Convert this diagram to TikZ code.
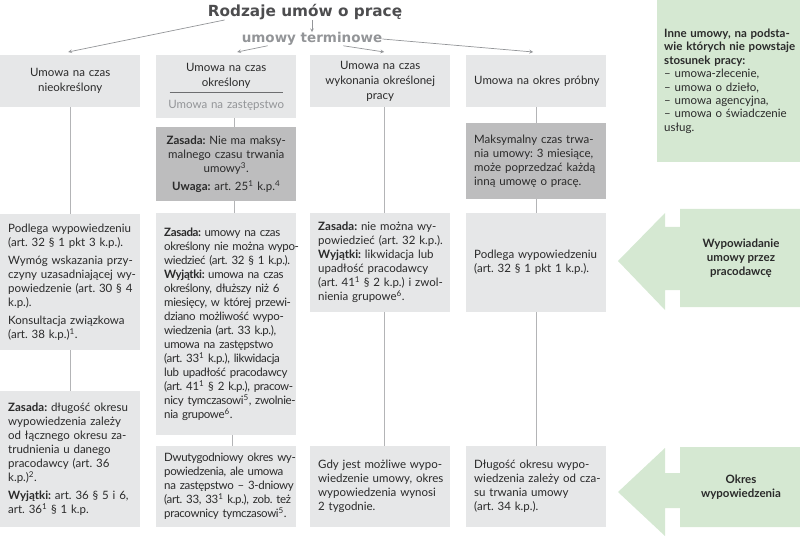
\documentclass[tikz,border=0pt]{standalone}
\usepackage{fontspec}
\setmainfont{Lato}
\newfontfamily\titlefont{DejaVu Sans}
\usepackage{xcolor}
\usepackage{tikz}

\definecolor{boxgray}{HTML}{E6E7E8}
\definecolor{darkbox}{HTML}{BDBDBE}
\definecolor{greenbox}{HTML}{D5E8D2}
\definecolor{txt}{HTML}{2A2A2A}
\definecolor{titlecol}{HTML}{4D4D4F}
\definecolor{termcol}{HTML}{939598}
\definecolor{linegray}{HTML}{B3B4B6}
\definecolor{sepgray}{HTML}{6D6E70}

\setlength{\parindent}{0pt}
\frenchspacing
% wiersz wyrownany do pelnej szerokosci
\newcommand{\fullline}[1]{\leavevmode\hbox to\hsize{#1}\\}

\begin{document}
\begin{tikzpicture}[x=1pt, y=-1pt, >=stealth,
        box/.style={anchor=north west, fill=boxgray, text=txt, text width=124pt, inner xsep=8pt, inner ysep=1pt, align=left, font=\fontsize{11.5}{14}\selectfont},
        head/.style={box, align=center, font=\fontsize{11.5}{15}\selectfont},
        dark/.style={box, fill=darkbox},
        tight/.style={font=\fontsize{11.5}{14}\selectfont\addfontfeatures{LetterSpace=-3}},
        gbox/.style={fill=greenbox, text=txt},
        link/.style={draw=linegray, line width=0.7pt},
        arr/.style={->, draw=termcol, line width=0.7pt}]
    \useasboundingbox (0,0) rectangle (800,537);

    % naglowki
    \node[inner sep=0pt, text=titlecol, font=\titlefont\bfseries\fontsize{15.3}{18}\selectfont] (title) at (305,12) {Rodzaje umów o pracę};
    \node[inner sep=0pt, text=termcol, font=\titlefont\bfseries\fontsize{13.5}{16}\selectfont] (term) at (312,39) {umowy terminowe};

    % rodzaje umow
    \node[head, minimum height=52pt] (h1) at (0,55) {Umowa na czas\\nieokreślony};
    \node[head, minimum height=63pt] (h2) at (156,55) {Umowa na czas\\określony\\[-8pt]\textcolor{sepgray}{\rule{113pt}{1.5pt}}\\\textcolor{termcol}{Umowa na zastępstwo}};
    \node[head, minimum height=52pt] (h3) at (310,55) {Umowa na czas\\\mbox{wykonania określonej}\\pracy};
    \node[head, minimum height=52pt] (h4) at (466,55) {\mbox{Umowa na okres próbny}};

    \node[dark, align=center, minimum height=74pt] (d2) at (156,127) {\mbox{\textbf{Zasada:} Nie ma maksy-}\\\mbox{malnego czasu trwania}\\umowy\textsuperscript{3}.\\[4pt]\mbox{\textbf{Uwaga:} art. 25\textsuperscript{1} k.p.\textsuperscript{4}}};
    \node[dark, minimum height=76pt] (d4) at (466,123) {\fullline{Maksymalny czas trwa-}\fullline{nia umowy: 3 miesiące,}\fullline{może poprzedzać każdą}inną umowę o pracę.};

    % wypowiadanie
    \node[box, minimum height=136pt] (w1) at (0,214) {\fullline{Podlega wypowiedzeniu}(art. 32 § 1 pkt 3 k.p.).\\[4pt]\fullline{Wymóg wskazania przy-}\fullline{czyny uzasadniającej wy-}\fullline{powiedzenie (art. 30 § 4}k.p.).\\[4pt]\fullline{Konsultacja związkowa}(art. 38 k.p.)\textsuperscript{1}.};
    \node[box, tight, minimum height=222pt] (w2) at (156,213) {\fullline{\textbf{Zasada:} umowy na czas}\fullline{określony nie można wypo-}\fullline{wiedzieć (art. 32 § 1 k.p.).}\fullline{\textbf{Wyjątki:} umowa na czas}\fullline{określony, dłuższy niż 6}\fullline{miesięcy, w której przewi-}\fullline{dziano możliwość wypo-}\fullline{wiedzenia (art. 33 k.p.),}\fullline{umowa na zastępstwo}\fullline{(art. 33\textsuperscript{1} k.p.), likwidacja}\fullline{lub upadłość pracodawcy}\fullline{(art. 41\textsuperscript{1} § 2 k.p.), pracow-}\fullline{nicy tymczasowi\textsuperscript{5}, zwolnie-}nia grupowe\textsuperscript{6}.};
    \node[box, minimum height=99pt] (w3) at (310,213) {\fullline{\textbf{Zasada:} nie można wy-}\fullline{powiedzieć (art. 32 k.p.).}\fullline{\textbf{Wyjątki:} likwidacja lub}\fullline{upadłość pracodawcy}\fullline{(art. 41\textsuperscript{1} § 2 k.p.) i zwol-}nienia grupowe\textsuperscript{6}.};
    \node[box, minimum height=99pt] (w4) at (466,213) {\fullline{Podlega wypowiedzeniu}(art. 32 § 1 pkt 1 k.p.).};

    % okres wypowiedzenia
    \node[box, minimum height=136pt] (o1) at (0,391) {\fullline{\textbf{Zasada:} długość okresu}\fullline{wypowiedzenia zależy}\fullline{od łącznego okresu za-}\fullline{trudnienia u danego}\fullline{pracodawcy (art. 36}k.p.)\textsuperscript{2}.\\[4pt]\fullline{\textbf{Wyjątki:} art. 36 § 5 i 6,}art. 36\textsuperscript{1} § 1 k.p.};
    \node[box, tight, minimum height=81pt] (o2) at (156,446) {\fullline{Dwutygodniowy okres wy-}\fullline{powiedzenia, ale umowa}\fullline{na zastępstwo – 3-dniowy}\fullline{(art. 33, 33\textsuperscript{1} k.p.), zob. też}pracownicy tymczasowi\textsuperscript{5}.};
    \node[box, minimum height=81pt] (o3) at (310,446) {\fullline{Gdy jest możliwe wypo-}\fullline{wiedzenie umowy, okres}\fullline{wypowiedzenia wynosi}2 tygodnie.};
    \node[box, minimum height=81pt] (o4) at (466,446) {\fullline{Długość okresu wypo-}\fullline{wiedzenia zależy od cza-}\fullline{su trwania umowy}(art. 34 k.p.).};

    % zielone
    \node[gbox, anchor=north west, text width=134pt, inner xsep=7pt, minimum height=162pt, align=left, font=\fontsize{11.5}{13.4}\selectfont] (other) at (657,0) {\textbf{Inne umowy, na podsta-}\\\textbf{wie których nie powstaje}\\\textbf{stosunek pracy:}\\– umowa-zlecenie,\\– umowa o dzieło,\\– umowa agencyjna,\\\fullline{– umowa o świadczenie}usług.};
    \fill[greenbox] (800,209) -- (680,209) -- (680,227) -- (665,227) -- (665,213) -- (618,261) -- (665,310) -- (665,290) -- (680,290) -- (680,307) -- (800,307) -- cycle;
    \fill[greenbox] (800,447) -- (680,447) -- (680,473) -- (665,473) -- (665,448) -- (618,492) -- (665,536) -- (665,508) -- (680,508) -- (680,527) -- (800,527) -- cycle;
    \node[align=center, text=txt, font=\bfseries\fontsize{11.5}{14}\selectfont] (notice) at (741,258) {Wypowiadanie\\umowy przez\\pracodawcę};
    \node[align=center, text=txt, font=\bfseries\fontsize{11.5}{14}\selectfont] (period) at (741,487) {Okres\\wypowiedzenia};

    % strzalki
    \draw[arr] ([xshift=17pt]title.south west) -- ([xshift=-2pt,yshift=3pt]h1.north);
    \draw[arr] (title.south -| term.north) -- (term.north);
    \draw[arr] ([xshift=26pt]term.south west) -- ([xshift=11pt,yshift=3pt]h2.north);
    \draw[arr] ([xshift=-39pt]term.south east) -- ([xshift=4pt,yshift=3pt]h3.north);
    \draw[arr] (term.east) -- ([xshift=-3pt,yshift=3pt]h4.north);

    % linie
    \draw[link] (h1.south) -- (w1.north);
    \draw[link] (w1.south) -- (o1.north);
    \draw[link] ([xshift=8pt]h2.south) -- ([xshift=8pt]d2.north);
    \draw[link] ([xshift=8pt]d2.south) -- ([xshift=8pt]w2.north);
    \draw[link] ([xshift=6pt]w2.south) -- ([xshift=6pt]o2.north);
    \draw[link] ([xshift=4pt]h3.south) -- ([xshift=4pt]w3.north);
    \draw[link] ([xshift=4pt]w3.south) -- ([xshift=4pt]o3.north);
    \draw[link] (h4.south) -- (d4.north);
    \draw[link] (d4.south) -- (w4.north);
    \draw[link] (w4.south) -- (o4.north);
\end{tikzpicture}
\end{document}
